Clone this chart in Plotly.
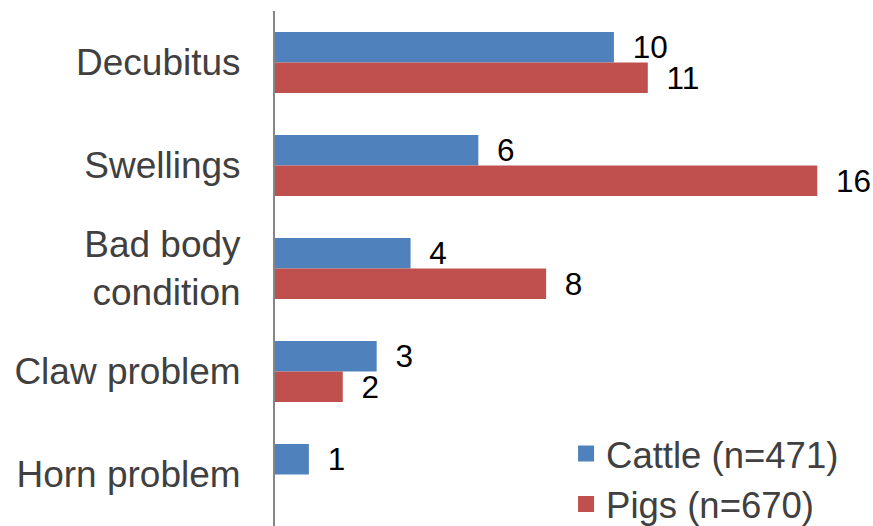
import plotly.graph_objects as go

categories = ["Decubitus", "Swellings", "Bad body<br>condition", "Claw problem", "Horn problem"]
cattle = [10, 6, 4, 3, 1]
pigs = [11, 16, 8, 2, None]
series_names = ["Cattle (n=471)", "Pigs (n=670)"]
colors = ["#4F81BD", "#C0504D"]

FONT = "Liberation Sans, Arial, sans-serif"

def labels(vals):
    return ["" if v is None else "\u2002" + str(v) for v in vals]

fig = go.Figure()
for name, vals, col in zip(series_names, [cattle, pigs], colors):
    fig.add_trace(go.Bar(
        x=vals, y=categories, orientation="h", name=name,
        marker=dict(color=col, line=dict(width=0)),
        text=labels(vals), textposition="outside", cliponaxis=False,
        constraintext="none",
        textfont=dict(size=31.5, color="#000000", family=FONT),
        showlegend=False,
    ))
# legend entries with larger square swatches
for name, col in zip(series_names, colors):
    fig.add_trace(go.Scatter(
        x=[None], y=[None], mode="markers", name=name,
        marker=dict(symbol="square", size=19, color=col),
        showlegend=True,
    ))

fig.update_layout(
    width=873, height=526,
    margin=dict(l=275, r=10, t=11, b=0, autoexpand=False),
    paper_bgcolor="white", plot_bgcolor="white",
    barmode="group", bargap=0.41, bargroupgap=0,
    font=dict(family=FONT, color="#404040"),
    xaxis=dict(range=[0, 17.35], visible=False, showgrid=False, zeroline=False,
               automargin=False),
    yaxis=dict(
        autorange=False, range=[4.5, -0.5], type="category", automargin=False,
        showline=True, linecolor="#868686", linewidth=2,
        showgrid=False, ticks="", ticklabelstandoff=25,
        tickfont=dict(size=37, color="#404040", family=FONT),
    ),
    legend=dict(
        x=0.495, xanchor="left", y=-0.016, yanchor="bottom",
        font=dict(size=36.5, color="#404040", family=FONT),
        bgcolor="rgba(0,0,0,0)", tracegroupgap=0,
    ),
)

fig.write_html(
    "out.html",
    config={"displayModeBar": False},
    post_script="document.body.style.margin='0px';document.body.style.overflow='hidden';",
)
